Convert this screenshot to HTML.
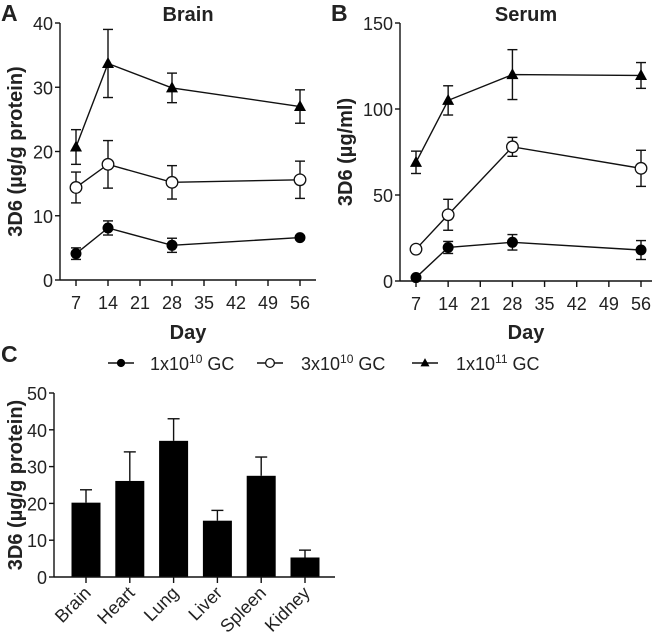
<!DOCTYPE html>
<html><head><meta charset="utf-8"><style>
html,body{margin:0;padding:0;background:#fff}
svg{display:block;font-family:"Liberation Sans",Arial,sans-serif}
.t{font-size:18px;fill:#222}
.b{font-weight:bold;fill:#222}
</style></head><body>
<svg id="fig" width="660" height="642" viewBox="0 0 660 642"></svg>
<script>
const days=[7,14,28,56];
const xTicks=[7,14,21,28,35,42,49,56];
const brainLow=[4.1,8.1,5.4,6.6];
const brainLowErr=[0.9,1.1,1.1,0.3];
const brainMid=[14.4,18.0,15.2,15.6];
const brainMidErr=[2.4,3.7,2.6,2.9];
const brainHigh=[20.7,33.7,29.9,27.0];
const brainHighErr=[2.7,5.3,2.3,2.6];
const brainTicks=[0,10,20,30,40];
const serumLow=[2,19.5,22.5,18];
const serumLowErr=[1,3.5,4.5,5.5];
const serumMid=[18.5,38.5,78,65.5];
const serumMidErr=[1,9,5.5,10.5];
const serumHigh=[69,105,120,119.5];
const serumHighErr=[6.5,8.5,14.5,7.5];
const serumTicks=[0,50,100,150];
const organs=["Brain","Heart","Lung","Liver","Spleen","Kidney"];
const organVals=[20.2,26.1,37,15.3,27.5,5.3];
const organErr=[3.5,7.9,6,2.8,5.1,2];
const organTicks=[0,10,20,30,40,50];

const svg=document.getElementById('fig');
const NS='http://www.w3.org/2000/svg';
function mk(tag,a,parent){const e=document.createElementNS(NS,tag);for(const k in a)e.setAttribute(k,a[k]);(parent||svg).appendChild(e);return e;}
function line(x1,y1,x2,y2,p,w){return mk('line',{x1,y1,x2,y2,stroke:'#111','stroke-width':w||1.4},p);}
function text(x,y,s,cls,anchor,p,extra){const t=mk('text',Object.assign({x,y,class:cls,'text-anchor':anchor||'middle'},extra||{}),p);t.textContent=s;return t;}
function marker(g,kind,x,y,sc){
  sc=sc||1;
  let m;
  if(kind==='low') m=mk('circle',{cx:x,cy:y,r:5.5*sc,fill:'#000'},g);
  else if(kind==='mid') m=mk('circle',{cx:x,cy:y,r:5.8*sc,fill:'#fff',stroke:'#111','stroke-width':1.3},g);
  else m=mk('polygon',{points:`${x},${y-6.5*sc} ${x+6*sc},${y+4.5*sc} ${x-6*sc},${y+4.5*sc}`,fill:'#000'},g);
  return m;
}
function linePanel(o){
  const g=mk('g',{});
  
  
  const X=d=>o.x7+(d-7)*(o.x56-o.x7)/49;
  const Y=v=>o.y0-(v/o.ymax)*(o.y0-o.ytop);
  line(o.ax,o.ytop,o.ax,o.y0,g);
  line(o.ax,o.y0,o.xend,o.y0,g);
  o.yt.forEach(v=>{line(o.ax-5,Y(v),o.ax,Y(v),g);text(o.ax-7,Y(v)+7,v,'t','end',g);});
  xTicks.forEach(d=>{line(X(d),o.y0,X(d),o.y0+6,g);text(X(d),o.y0+29,d,'t','middle',g);});
  text((o.ax+o.xend)/2,21,o.title,'b','middle',g,{'font-size':20});
  text((o.ax+o.xend)/2,339,'Day','b','middle',g,{'font-size':20});
  text(0,0,o.ylab,'b','middle',g,{'font-size':20,transform:`translate(${o.ylx},${(o.ytop+o.y0)/2}) rotate(-90)`});
  text(o.lx,21,o.letter,'b','start',g,{'font-size':23});
  o.series.forEach(s=>{
    const sg=mk('g',{},g);
    
    
    mk('polyline',{points:days.map((d,i)=>X(d)+','+Y(s.v[i])).join(' '),fill:'none',stroke:'#111','stroke-width':1.4},sg);
    days.forEach((d,i)=>{
      const x=X(d),y1=Y(s.v[i]+s.e[i]),y2=Y(s.v[i]-s.e[i]);
      line(x,y1,x,y2,sg);line(x-5,y1,x+5,y1,sg);line(x-5,y2,x+5,y2,sg);
    });
    days.forEach((d,i)=>marker(sg,s.kind,X(d),Y(s.v[i])));
  });
}
linePanel({name:'brain-panel',title:'Brain',letter:'A',lx:1,ylab:'3D6 (µg/g protein)',ylx:22,ax:60,xend:316,x7:76,x56:300,y0:280,ytop:23,ymax:40,yt:brainTicks,
 series:[{kind:'low',v:brainLow,e:brainLowErr},{kind:'mid',v:brainMid,e:brainMidErr},{kind:'high',v:brainHigh,e:brainHighErr}]});
linePanel({name:'serum-panel',title:'Serum',letter:'B',lx:331,ylab:'3D6 (µg/ml)',ylx:352,ax:400,xend:652,x7:416,x56:641,y0:281,ytop:23,ymax:150,yt:serumTicks,
 series:[{kind:'low',v:serumLow,e:serumLowErr},{kind:'mid',v:serumMid,e:serumMidErr},{kind:'high',v:serumHigh,e:serumHighErr}]});

const lg=mk('g',{});


[['low',121,150,'1x10','10'],['mid',270,301,'3x10','10'],['high',425,456,'1x10','11']].forEach(l=>{
  const eg=mk('g',{},lg);
  
  
  line(l[1]-13,363,l[1]+13,363,eg);
  marker(eg,l[0],l[1],363,0.75);
  const t=mk('text',{x:l[2],y:370,class:'t','font-size':19},eg);
  t.innerHTML=l[3]+'<tspan dy="-7" font-size="12">'+l[4]+'</tspan><tspan dy="7"> GC</tspan>';
});

const bg=mk('g',{});


const bx0=54,by0=577,bytop=393,bxend=335;
const BX=i=>86+i*43.8;
const BY=v=>by0-(v/50)*(by0-bytop);
text(1,362,'C','b','start',bg,{'font-size':23});
text(0,0,'3D6 (µg/g protein)','b','middle',bg,{'font-size':20,transform:`translate(22,${(bytop+by0)/2}) rotate(-90)`});
organVals.forEach((v,i)=>{
  const x=BX(i);
  const r=mk('rect',{x:x-14.5,y:BY(v),width:29,height:by0-BY(v),fill:'#000'},bg);
  
  
  const ye=BY(v+organErr[i]);
  line(x,ye,x,BY(v),bg);line(x-6,ye,x+6,ye,bg);
});
line(bx0,bytop,bx0,by0,bg);
line(bx0,by0,bxend,by0,bg);
organTicks.forEach(v=>{line(bx0-5,BY(v),bx0,BY(v),bg);text(bx0-7,BY(v)+7,v,'t','end',bg);});
organs.forEach((o,i)=>{
  const x=BX(i);
  line(x,by0,x,by0+6,bg);
  text(0,0,o,'t','end',bg,{transform:`translate(${x+6},${by0+17}) rotate(-45)`});
});
</script>
</body></html>
